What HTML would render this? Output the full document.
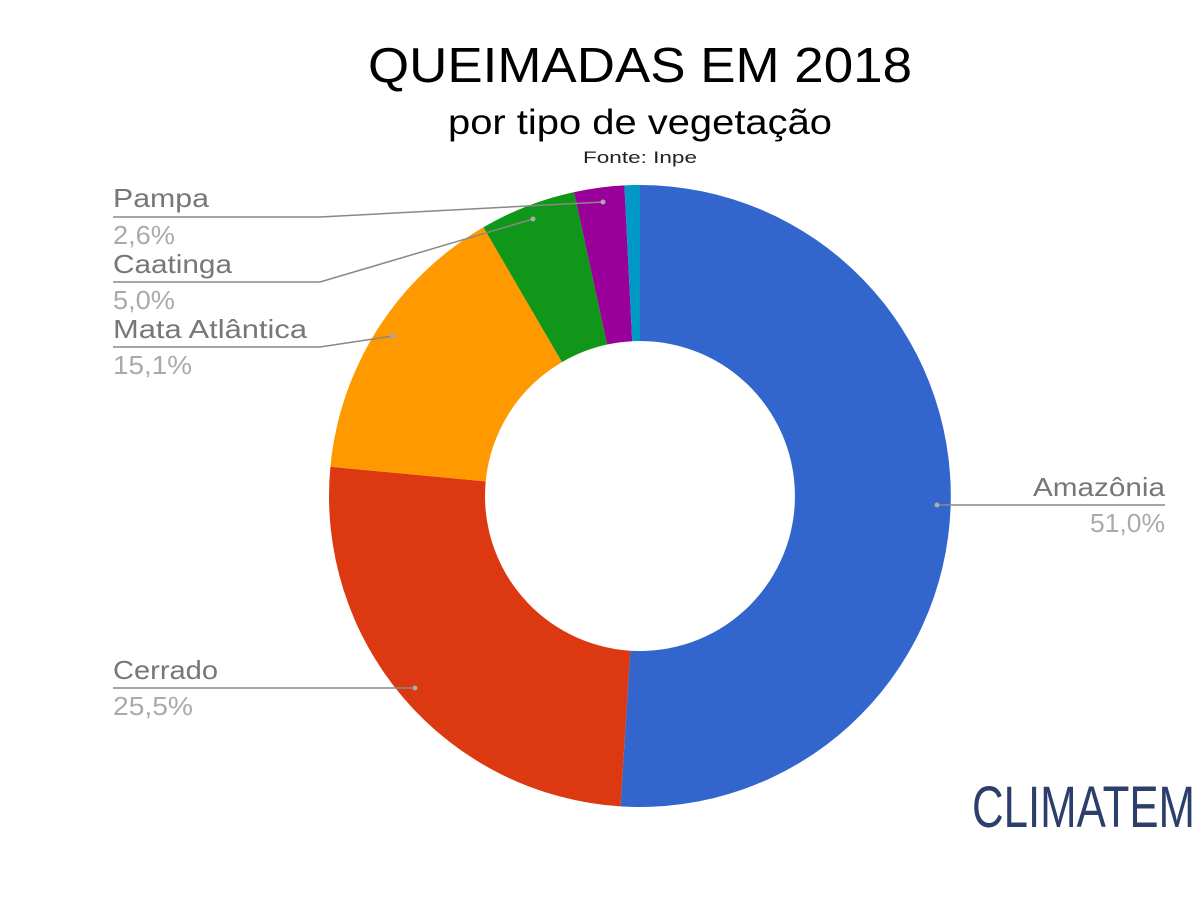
<!DOCTYPE html>
<html><head><meta charset="utf-8"><style>body{margin:0;background:#fff}svg{display:block}</style></head>
<body>
<svg width="1200" height="900" viewBox="0 0 1200 900" font-family="Liberation Sans, Arial, sans-serif">
<rect width="1200" height="900" fill="#fff"/>
<text x="368" y="82" font-size="49" fill="#000" textLength="544" lengthAdjust="spacingAndGlyphs">QUEIMADAS EM 2018</text>
<text x="448" y="134" font-size="35" fill="#000" textLength="384" lengthAdjust="spacingAndGlyphs">por tipo de vegetação</text>
<text x="583" y="163" font-size="17" fill="#222" textLength="114" lengthAdjust="spacingAndGlyphs">Fonte: Inpe</text>

<path d="M640,185 A311,311 0 1,1 620.5,806.4 L630.3,650.7 A155,155 0 1,0 640,341 Z" fill="#3366cc"/>
<path d="M620.5,806.4 A311,311 0 0,1 330.4,466.7 L485.7,481.4 A155,155 0 0,0 630.3,650.7 Z" fill="#dc3912"/>
<path d="M330.4,466.7 A311,311 0 0,1 483.4,227.3 L562,362.1 A155,155 0 0,0 485.7,481.4 Z" fill="#ff9900"/>
<path d="M483.4,227.3 A311,311 0 0,1 574.1,192.1 L607.1,344.5 A155,155 0 0,0 562,362.1 Z" fill="#109618"/>
<path d="M574.1,192.1 A311,311 0 0,1 624.4,185.4 L632.2,341.2 A155,155 0 0,0 607.1,344.5 Z" fill="#990099"/>
<path d="M624.4,185.4 A311,311 0 0,1 640,185 L640,341 A155,155 0 0,0 632.2,341.2 Z" fill="#0099c6"/>

<g stroke="#888" stroke-width="1.5" fill="none">
<polyline points="113,217 320,217 603,202"/>
<polyline points="113,282 320,282 533,219"/>
<polyline points="113,347 320,347 393,336"/>
<polyline points="113,688 415,688"/>
<polyline points="937,505 1165,505"/>
</g>
<g fill="#aaa">
<circle cx="603" cy="202" r="2.5"/><circle cx="533" cy="219" r="2.5"/><circle cx="393" cy="336" r="2.5"/><circle cx="415" cy="688" r="2.5"/><circle cx="937" cy="505" r="2.5"/>
</g>
<g font-size="26">
<text x="113" y="207" fill="#777" textLength="96" lengthAdjust="spacingAndGlyphs">Pampa</text>
<text x="113" y="244" fill="#aaa" textLength="62" lengthAdjust="spacingAndGlyphs">2,6%</text>
<text x="113" y="273" fill="#777" textLength="119" lengthAdjust="spacingAndGlyphs">Caatinga</text>
<text x="113" y="309" fill="#aaa" textLength="62" lengthAdjust="spacingAndGlyphs">5,0%</text>
<text x="113" y="338" fill="#777" textLength="194" lengthAdjust="spacingAndGlyphs">Mata Atlântica</text>
<text x="113" y="374" fill="#aaa" textLength="79" lengthAdjust="spacingAndGlyphs">15,1%</text>
<text x="113" y="679" fill="#777" textLength="105" lengthAdjust="spacingAndGlyphs">Cerrado</text>
<text x="113" y="715" fill="#aaa" textLength="80" lengthAdjust="spacingAndGlyphs">25,5%</text>
<text x="1033" y="496" fill="#777" textLength="132" lengthAdjust="spacingAndGlyphs">Amazônia</text>
<text x="1090" y="532" fill="#aaa" textLength="75" lengthAdjust="spacingAndGlyphs">51,0%</text>
</g>
<text x="972" y="827" font-size="58" fill="#2c3e6b" textLength="223" lengthAdjust="spacingAndGlyphs" font-family="Liberation Sans Narrow, Liberation Sans, sans-serif">CLIMATEM</text>
</svg>
</body></html>
